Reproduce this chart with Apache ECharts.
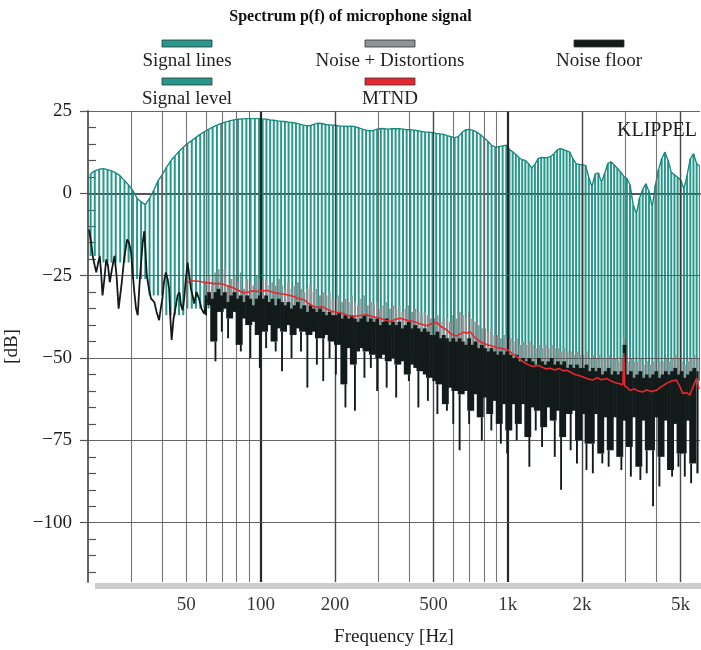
<!DOCTYPE html>
<html><head><meta charset="utf-8">
<script src="https://cdn.jsdelivr.net/npm/echarts@6/dist/echarts.min.js"></script>
<style>html,body{margin:0;padding:0;background:#fff}#c{width:701px;height:650px}</style>
</head><body><div id="c"></div>
<script>
// ---------- DATA ----------
// signal lines: [frequency Hz, signal level dB, lower end of line dB]
const signalLines = [
[20.5,6.0,-19],[21.3,6.8,-19],[22.2,7.3,-19],[23.1,7.5,-21],[24.0,7.2,-21],[24.9,6.8,-21],[25.9,6.2,-21],[27.0,5.3,-21],[28.1,3.8,-21],[29.2,2.5,-21],
[30.4,0.8,-26],[31.6,-1.5,-26],[32.8,-2.6,-26],[34.1,-3.4,-26],[35.5,-1.5,-31],[36.9,0.8,-31],[38.4,3.8,-31],[39.9,5.6,-31],
[41.5,7.8,-37],[43.2,9.8,-37],[44.9,11.3,-37],[46.7,12.7,-37],[48.6,14.0,-37],
[50.5,15.1,-35],[52.6,16.0,-35],[54.7,17.0,-35],[56.9,17.9,-35],[59.1,18.7,-35],[61.5,19.4,-35],[63.9,20.1,-35],[66.5,20.7,-35],[69.2,21.2,-35],[71.9,21.6,-35],
[74.8,22.0,-35],[77.8,22.3,-35],[80.9,22.5,-35],[84.2,22.6,-35],[87.5,22.7,-35],[91.0,22.7,-35],[94.7,22.7,-35],[98.5,22.7,-35],
[101.9,22.6,-39],[105.5,22.5,-39],[109.2,22.3,-39],[113.0,22.2,-39],[116.9,22.0,-39],[121.0,21.9,-39],[125.3,21.8,-39],[129.7,21.6,-39],[134.2,21.5,-39],[138.9,21.3,-39],
[143.8,21.0,-39],[148.8,20.7,-39],[154.0,20.5,-39],[159.4,20.6,-39],[165.0,21.0,-39],[170.7,21.3,-39],[176.7,21.2,-39],[182.9,20.9,-39],[189.3,20.8,-39],[195.9,20.7,-39],
[202.8,20.6,-43],[209.9,20.4,-43],[217.2,20.4,-43],[224.8,20.3,-43],[232.7,20.4,-43],[240.8,20.2,-43],[249.3,19.9,-43],[258.0,19.5,-43],[267.0,19.2,-43],[276.4,19.0,-43],
[286.0,19.1,-43],[296.0,19.5,-43],[306.4,19.7,-43],[317.1,19.6,-43],[328.2,19.5,-43],[339.7,19.6,-43],[351.6,19.6,-43],[363.9,19.6,-43],[376.7,19.5,-43],[389.8,19.3,-43],
[403.5,19.3,-43],[417.6,19.2,-43],[432.2,19.0,-43],[447.3,18.8,-43],[463.0,18.6,-43],[479.2,18.6,-43],[496.0,18.4,-43],
[513.3,18.2,-49],[531.3,18.0,-49],[549.9,17.9,-49],[569.1,17.5,-49],[589.1,17.2,-49],[609.7,16.9,-49],[631.0,17.2,-49],[653.1,18.5,-49],[676.0,19.3,-49],[699.6,19.4,-49],
[724.1,19.1,-49],[749.5,18.6,-49],[775.7,17.8,-49],[802.8,16.8,-49],[830.9,15.8,-49],[860.0,14.6,-49],[890.1,14.0,-49],[921.3,14.2,-49],[953.5,14.4,-49],[986.9,14.6,-49],
[1016,13.3,-54],[1047,12.6,-54],[1078,11.8,-54],[1111,10.8,-54],[1144,10.2,-54],[1178,10.0,-54],[1214,9.0,-54],[1250,7.7,-54],[1288,8.8,-54],[1326,10.5,-54],
[1366,10.9,-54],[1407,10.8,-54],[1449,10.9,-54],[1493,11.2,-54],[1538,12.0,-54],[1584,13.1,-54],[1631,13.6,-54],[1680,13.3,-54],[1731,12.9,-54],[1782,12.5,-54],
[1836,10.5,-54],[1891,9.0,-54],[1948,8.8,-54],
[2006,8.7,-57],[2066,8.4,-57],[2128,4.8,-57],[2192,2.0,-57],[2258,5.8,-57],[2326,6.2,-57],[2396,3.4,-57],[2467,6.0,-57],[2541,9.0,-57],[2618,9.6,-57],
[2696,8.6,-57],[2777,7.6,-57],[2860,6.5,-57],[2946,5.2,-57],[3035,4.5,-57],[3126,2.6,-57],[3219,-3.5,-57],[3316,-6.2,-57],[3415,-1.5,-57],[3518,1.2,-57],
[3623,2.9,-57],[3732,0.5,-57],[3844,-4.2,-57],[3959,2.5,-57],[4078,7.2,-57],[4200,10.5,-57],[4326,12.5,-57],[4456,10.0,-57],[4590,6.4,-57],[4728,5.6,-57],
[4870,4.9,-57],[5016,4.0,-57],[5166,1.3,-57],[5321,5.5,-57],[5481,10.5,-57],[5645,12.0,-57],[5815,9.0,-57],[5989,8.2,-57]
];

// noise floor, low-frequency part drawn as a line: [frequency Hz, dB]
const noiseFloorLine = [
[20.2,-11],[20.6,-15],[20.9,-19],[21.3,-22],[21.6,-24],[22.0,-21],[22.3,-19],[22.6,-24],[22.9,-31],[23.3,-26],[23.7,-20],[24.1,-22],[24.5,-27],[25.0,-23],
[25.6,-19],[26.1,-25],[26.6,-35],[27.0,-31],[27.4,-27],[28.0,-20],[28.8,-14],[29.3,-15],[29.9,-18],[30.4,-25],[30.8,-30],[31.3,-35],[31.8,-37],[32.3,-28],
[32.8,-21],[33.3,-15],[33.8,-11.5],[34.2,-18],[34.6,-25],[35.3,-29],[36.0,-32],[37.1,-33],[37.9,-36],[38.8,-38.5],[39.4,-35],[40.0,-32],[40.6,-27],[41.3,-24],
[42.0,-26],[42.6,-29],[43.1,-38],[43.6,-44.5],[44.4,-38],[45.4,-34],[46.1,-31],[46.9,-30],[47.6,-34],[48.3,-35.5],[49.0,-32],[49.8,-26],[50.6,-21],[51.4,-25],
[52.2,-29],[53.0,-31],[53.8,-33.5],[55.0,-30],[56.3,-32],[57.6,-35],[59.0,-36.5],[60.4,-33],[61.8,-32]
];

// noise floor, dense part: [frequency Hz, upper edge dB, lowest dip dB]
const noiseFloor = [
[60.0,-31,-37],[61.8,-30,-34],[63.6,-32,-45],[65.6,-30,-51],[67.5,-29,-36],[69.6,-31,-42],[71.6,-30,-35],[73.8,-33,-44],[76.0,-31,-38],[78.3,-30,-36],
[80.6,-32,-46],[83.1,-31,-48],[85.5,-33,-38],[88.1,-31,-40],[90.8,-32,-50],[93.5,-34,-39],[96.3,-32,-43],[99.2,-31,-53],[102.2,-32,-42],[105.2,-31,-47],
[108.4,-33,-40],[111.6,-32,-45],[115.0,-34,-48],[118.4,-32,-41],[122.0,-33,-54],[125.6,-34,-42],[129.4,-33,-40],[133.3,-35,-50],[137.3,-34,-43],[141.4,-33,-41],
[145.6,-35,-48],[150.0,-34,-42],[154.5,-36,-59],[159.1,-34,-43],[163.9,-35,-42],[168.8,-36,-52],[173.9,-35,-44],[179.1,-36,-57],[184.5,-37,-43],[190.0,-36,-50],
[195.7,-37,-45],[201.6,-37,-55],[207.7,-36,-46],[213.9,-38,-58],[220.3,-37,-65],[226.9,-38,-47],[233.7,-37,-52],[240.7,-38,-66],[247.9,-39,-48],[255.4,-38,-47],
[263.0,-37,-56],[270.9,-39,-48],[279.1,-38,-53],[287.4,-39,-49],[296.1,-38,-60],[304.9,-40,-50],[314.1,-39,-49],[323.5,-38,-59],[333.2,-40,-51],[343.2,-39,-50],
[353.5,-40,-62],[364.1,-39,-52],[375.0,-41,-51],[386.3,-40,-55],[397.9,-39,-57],[409.8,-41,-52],[422.1,-40,-53],[434.8,-41,-65],[447.8,-42,-54],[461.2,-41,-55],
[475.1,-42,-63],[489.3,-43,-56],[504.0,-43,-57],[519.1,-42,-67],[534.7,-44,-58],[550.8,-43,-64],[567.3,-44,-66],[584.3,-45,-59],[601.8,-44,-70],[619.9,-45,-60],
[638.5,-44,-78],[657.6,-45,-61],[677.4,-46,-60],[697.7,-44,-70],[718.6,-46,-66],[740.2,-45,-61],[762.4,-47,-68],[785.2,-46,-75],[808.8,-47,-62],[833.1,-48,-67],
[858.1,-47,-72],[883.8,-48,-63],[910.3,-49,-70],[937.6,-48,-76],[965.7,-49,-64],[994.7,-48,-79],[1025,-49,-72],[1055,-50,-64],[1087,-49,-75],[1120,-51,-70],
[1153,-50,-64],[1188,-51,-74],[1223,-50,-83],[1260,-51,-65],[1298,-52,-72],[1337,-50,-66],[1377,-51,-77],[1418,-52,-71],[1461,-51,-65],[1505,-50,-69],
[1550,-52,-80],[1596,-51,-66],[1644,-52,-90],[1693,-51,-74],[1744,-53,-67],[1797,-52,-78],[1850,-53,-66],[1906,-52,-82],[1963,-53,-75],[2022,-53,-67],
[2083,-52,-84],[2145,-54,-76],[2210,-53,-85],[2276,-54,-67],[2344,-53,-79],[2414,-55,-82],[2487,-54,-68],[2561,-53,-83],[2638,-55,-78],[2717,-54,-68],
[2799,-55,-80],[2883,-54,-84],[2969,-46,-69],[3059,-55,-77],[3150,-54,-86],[3245,-56,-68],[3342,-55,-83],[3442,-54,-87],[3546,-56,-69],[3652,-55,-85],
[3762,-56,-78],[3874,-55,-95],[3991,-54,-68],[4110,-56,-89],[4234,-55,-80],[4361,-54,-69],[4492,-55,-84],[4626,-54,-86],[4765,-53,-70],[4908,-55,-83],
[5055,-54,-79],[5207,-56,-86],[5363,-55,-69],[5524,-54,-88],[5690,-53,-82],[5860,-54,-85]
];

// noise + distortions, upper edge: [frequency Hz, dB] (same bins as noiseFloor)
const noiseDist = [
[60.0,-27],[61.8,-25],[63.6,-28],[65.6,-24],[67.5,-23],[69.6,-27],[71.6,-23],[73.8,-28],[76.0,-26],[78.3,-25],
[80.6,-27],[83.1,-24],[85.5,-29],[88.1,-26],[90.8,-27],[93.5,-28],[96.3,-25],[99.2,-26],[102.2,-27],[105.2,-26],
[108.4,-28],[111.6,-27],[115.0,-28],[118.4,-26],[122.0,-28],[125.6,-29],[129.4,-27],[133.3,-29],[137.3,-28],[141.4,-27],
[145.6,-29],[150.0,-30],[154.5,-29],[159.1,-28],[163.9,-30],[168.8,-29],[173.9,-31],[179.1,-30],[184.5,-31],[190.0,-30],
[195.7,-32],[201.6,-32],[207.7,-31],[213.9,-33],[220.3,-32],[226.9,-33],[233.7,-31],[240.7,-33],[247.9,-34],[255.4,-32],
[263.0,-31],[270.9,-34],[279.1,-33],[287.4,-34],[296.1,-33],[304.9,-35],[314.1,-34],[323.5,-33],[333.2,-35],[343.2,-34],
[353.5,-35],[364.1,-34],[375.0,-36],[386.3,-35],[397.9,-34],[409.8,-36],[422.1,-35],[434.8,-36],[447.8,-37],[461.2,-36],
[475.1,-37],[489.3,-38],[504.0,-38],[519.1,-37],[534.7,-39],[550.8,-38],[567.3,-38],[584.3,-39],[601.8,-37],[619.9,-38],
[638.5,-36],[657.6,-37],[677.4,-38],[697.7,-36],[718.6,-38],[740.2,-39],[762.4,-40],[785.2,-41],[808.8,-41],[833.1,-42],
[858.1,-41],[883.8,-43],[910.3,-43],[937.6,-44],[965.7,-43],[994.7,-44],[1025,-44],[1055,-45],[1087,-44],[1120,-46],
[1153,-45],[1188,-46],[1223,-45],[1260,-46],[1298,-47],[1337,-46],[1377,-47],[1418,-46],[1461,-47],[1505,-46],
[1550,-47],[1596,-47],[1644,-48],[1693,-47],[1744,-48],[1797,-48],[1850,-49],[1906,-48],[1963,-49],[2022,-49],
[2083,-48],[2145,-50],[2210,-49],[2276,-50],[2344,-49],[2414,-50],[2487,-50],[2561,-49],[2638,-50],[2717,-50],
[2799,-51],[2883,-50],[2969,-44],[3059,-51],[3150,-50],[3245,-51],[3342,-51],[3442,-50],[3546,-52],[3652,-51],
[3762,-52],[3874,-51],[3991,-50],[4110,-51],[4234,-51],[4361,-50],[4492,-51],[4626,-50],[4765,-49],[4908,-50],
[5055,-51],[5207,-52],[5363,-51],[5524,-50],[5690,-49],[5860,-50]
];

// MTND: [frequency Hz, dB]
const mtnd = [
[50.3,-27.1],[52,-26.6],[55.2,-26.6],[58,-26.9],[60.5,-27.1],[64.8,-27.4],[68.5,-27.4],[71.1,-27.7],[74,-28.2],[77.6,-28.7],[81,-29.4],[85.1,-30.2],
[89,-30],[93,-29.6],[96.9,-29.8],[101,-29.6],[106.4,-29.5],[113,-30.1],[120.4,-30.5],[128,-30.8],[136.3,-31.3],[142,-31.9],[149.5,-32.3],[156,-33.4],
[164.2,-34.4],[172,-34.7],[178,-34.4],[185.8,-35.2],[194,-35.8],[204,-36.2],[215,-36.5],[225,-37.1],[238,-37.4],[252,-37.1],[269.5,-36.9],[285,-37.5],
[305,-37.9],[320,-38.5],[335,-38.9],[350,-38.3],[367,-37.9],[390,-38.5],[416,-38.9],[440,-39.6],[470,-40.2],[493,-39.6],[516,-39.2],[540,-40.6],
[567,-41.5],[584,-42.5],[603,-43.0],[622,-43.3],[645,-42.6],[665,-42.2],[685,-42.4],[704,-42.0],[730,-43.5],[760,-44.6],[795,-45.5],[830,-46.0],
[870,-46.4],[900,-46.8],[932,-47.0],[965,-47.3],[1003,-47.6],[1040,-48.6],[1089,-49.6],[1130,-50.6],[1180,-51.6],[1230,-52.3],[1265,-52.6],[1320,-52.2],
[1380,-52.8],[1430,-53.3],[1486,-53.1],[1550,-53.6],[1620,-53.2],[1680,-53.9],[1735,-53.7],[1800,-54.3],[1870,-55.0],[1940,-55.3],[2010,-55.7],[2100,-56.3],
[2206,-56.7],[2300,-56.0],[2400,-56.6],[2512,-56.2],[2620,-57.0],[2750,-57.6],[2860,-57.9],[2923,-58.2],[2950,-48.5],[2976,-58.5],[3050,-59.0],[3117,-59.8],
[3250,-59.4],[3380,-60.0],[3522,-60.3],[3650,-59.6],[3800,-60.2],[3995,-59.8],[4150,-58.9],[4387,-57.7],[4600,-57.0],[4818,-56.7],[4960,-58.5],[5113,-60.8],
[5300,-60.5],[5457,-61.3],[5600,-59.0],[5818,-56.2],[5950,-59.5]
];

// axes / ticks
const xGridValues = [30,40,50,60,70,80,90,100,200,300,400,500,600,700,800,900,1000,2000,3000,4000,5000];
const xTickValues = [50,100,200,500,1000,2000,5000];
const xTickLabels = ['50','100','200','500','1k','2k','5k'];
const yTickValues = [-100,-75,-50,-25,0,25];
const yTickLabels = ['\u2212100','\u221275','\u221250','\u221225','0','25'];
const yMinorTicks = [-115,-110,-105,-95,-90,-85,-80,-70,-65,-60,-55,-45,-40,-35,-30,-20,-15,-10,-5,5,10,15,20];

const legendNames = ['Signal lines','Noise + Distortions','Noise floor','Signal level','MTND'];
const titleText = 'Spectrum p(f) of microphone signal';

// ---------- STYLE ----------
const FONT = '"Liberation Serif","Times New Roman",serif';
const FS = 19;
const TEAL = '#26998c', TEAL_DARK = '#1b8a7e', GRAY = '#8e9496', BLACK = '#131b1a', RED = '#e8262f';
const TXT = '#1e1e1e';

function toneRender(params, api) {
  const f = api.value(0);
  const a = api.coord([f, api.value(1)]);
  const b = api.coord([f, api.value(2)]);
  return {type:'line', shape:{x1:a[0], y1:a[1], x2:b[0], y2:b[1]}, style:{stroke:TEAL, lineWidth:2}};
}
function nfRender(params, api) {
  const i = params.dataIndex, n = noiseFloor.length, row = noiseFloor[i];
  const pTop = api.coord([row[0], row[1]]);
  const pBot = api.coord([row[0], row[2]]);
  const xp = api.coord([noiseFloor[Math.max(0,i-1)][0], 0])[0];
  const xn = api.coord([noiseFloor[Math.min(n-1,i+1)][0], 0])[0];
  const w = (xn - xp) / 2 + 0.6;
  // solid body reaches the middle value of the three neighbouring dips, the rest is a thin spike
  const win = [];
  for (let j = Math.max(0,i-1); j <= Math.min(n-1,i+1); j++) win.push(noiseFloor[j][2]);
  win.sort((a, b) => b - a);
  let core = win[Math.min(1, win.length - 1)];
  core = Math.max(core, row[2]);
  core = Math.min(core, row[1] - 1);
  const yCore = api.coord([row[0], core])[1];
  return {type:'group', children:[
    {type:'rect', shape:{x:pTop[0]-w/2, y:pTop[1], width:w, height:yCore-pTop[1]}, style:{fill:BLACK}},
    {type:'line', shape:{x1:pTop[0], y1:yCore, x2:pTop[0], y2:pBot[1]}, style:{stroke:BLACK, lineWidth:1.9}}
  ]};
}
function ndRender(params, api) {
  const i = params.dataIndex, row = noiseDist[i];
  const a = api.coord([row[0], row[1]]);
  const b = api.coord([row[0], noiseFloor[i][1] - 2]);
  return {type:'line', shape:{x1:a[0], y1:a[1], x2:b[0], y2:b[1]}, style:{stroke:GRAY, lineWidth:2.2}};
}

const gridLineData = xGridValues.map(v => {
  const heavy = (v === 100 || v === 1000);
  const mid = (v === 200 || v === 500 || v === 2000 || v === 5000);
  const k = xTickValues.indexOf(v);
  return {
    xAxis: v,
    lineStyle: {color: heavy ? '#111' : (mid ? '#333' : '#666'), width: heavy ? 2.2 : (mid ? 1.4 : 1.1), type:'solid', opacity: 0.9},
    label: k >= 0 ? {show:true, position:'start', formatter: xTickLabels[k], distance: 14, fontFamily: FONT, fontSize: FS, color: TXT} : {show:false}
  };
}).concat(yTickValues.map(v => ({yAxis: v, lineStyle:{color:'#555', width:1, type:'solid', opacity:0.9}, label:{show:false}})));

// legend graphics
const legendCols = [187, 390, 599];
const legendSpec = [
  {name: legendNames[0], color: TEAL, col: 0, row: 0},
  {name: legendNames[1], color: GRAY, col: 1, row: 0},
  {name: legendNames[2], color: BLACK, col: 2, row: 0},
  {name: legendNames[3], color: TEAL, col: 0, row: 1},
  {name: legendNames[4], color: RED, col: 1, row: 1}
];
const rowIconY = [40, 78], rowTextY = [61, 99];
const graphics = [];
legendSpec.forEach(s => {
  const cx = legendCols[s.col];
  graphics.push({type:'rect', shape:{x:cx-25, y:rowIconY[s.row], width:50, height:7}, style:{fill:s.color, stroke:'#333', lineWidth:0.8}});
  graphics.push({type:'text', x:cx, y:rowTextY[s.row], style:{text:s.name, font:FS + 'px ' + FONT, fill:TXT, align:'center', verticalAlign:'middle', textAlign:'center', textVerticalAlign:'middle'}});
});
graphics.push({type:'text', x:697, y:131, style:{text:'KLIPPEL', font:'20px ' + FONT, fill:TXT, align:'right', verticalAlign:'middle', textAlign:'right', textVerticalAlign:'middle'}, z: 100});
graphics.push({type:'rect', shape:{x:95, y:583, width:606, height:6}, style:{fill:'#cdcdcd'}, z:-10});

const chart = echarts.init(document.getElementById('c'), null, {renderer:'canvas'});
chart.setOption({
  animation: false,
  backgroundColor: '#fff',
  title: {text: titleText, left: 'center', top: 4, textStyle: {fontFamily: FONT, fontWeight: 'bold', fontSize: 16, color: '#111'}},
  grid: {left: 88, right: 1, top: 111, bottom: 68, containLabel: false, outerBoundsMode: 'none'},
  xAxis: {
    type: 'log', logBase: 10, min: 20, max: 6000,
    axisLine: {show: true, lineStyle: {color: '#555', width: 2}},
    axisTick: {show: false}, axisLabel: {show: false}, splitLine: {show: false}, minorTick: {show:false}, minorSplitLine: {show:false},
    name: 'Frequency [Hz]', nameLocation: 'middle', nameGap: 46,
    nameTextStyle: {fontFamily: FONT, fontSize: FS, color: TXT}
  },
  yAxis: [{
    type: 'value', min: -118, max: 25,
    axisLine: {show: true, lineStyle: {color: '#666', width: 2}},
    axisTick: {show: true, customValues: yTickValues, length: 8, lineStyle: {color: '#555', width: 1.2}},
    axisLabel: {show: true, customValues: yTickValues, margin: 16, fontFamily: FONT, fontSize: FS, color: TXT,
      formatter: v => yTickLabels[yTickValues.indexOf(v)] || ''},
    splitLine: {show: false},
    name: '[dB]', nameLocation: 'middle', nameGap: 62, nameRotate: 90,
    nameTextStyle: {fontFamily: FONT, fontSize: FS, color: TXT}
  }, {
    type: 'value', min: -118, max: 25, position: 'left', offset: 0,
    axisLine: {show: false}, axisLabel: {show: false}, splitLine: {show: false},
    axisTick: {show: true, inside: true, customValues: yMinorTicks, length: 8, lineStyle: {color: '#555', width: 1.2}}
  }],
  graphic: graphics,
  series: [
    {name: legendNames[0], type: 'custom', renderItem: toneRender, data: signalLines, encode: {x: 0, y: [1, 2]}, clip: true, z: 1, silent: true},
    {name: legendNames[3], type: 'line', data: signalLines.map(r => [r[0], r[1]]), symbol: 'none', lineStyle: {color: TEAL_DARK, width: 1.4}, z: 2, silent: true},
    {name: 'grid', type: 'line', data: [], z: 3, silent: true,
      markLine: {silent: true, symbol: ['none','none'], animation: false, data: gridLineData, label: {show: false}}},
    {name: legendNames[1], type: 'custom', renderItem: ndRender, data: noiseDist, encode: {x: 0, y: 1}, clip: true, z: 4, silent: true},
    {name: legendNames[2], type: 'custom', renderItem: nfRender, data: noiseFloor, encode: {x: 0, y: [1, 2]}, clip: true, z: 5, silent: true},
    {name: legendNames[2] + ' (LF)', type: 'line', data: noiseFloorLine, symbol: 'none', lineStyle: {color: BLACK, width: 1.8}, z: 5, silent: true},
    {name: legendNames[4], type: 'line', data: mtnd, symbol: 'none', lineStyle: {color: RED, width: 1.6}, z: 6, silent: true}
  ]
});
</script>
</body></html>
